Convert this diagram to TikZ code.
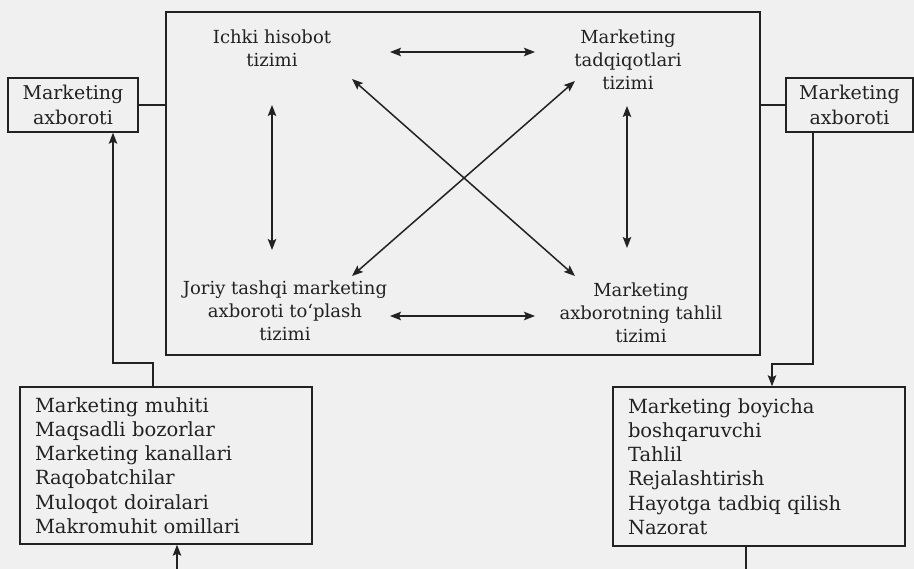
\documentclass[tikz,border=0pt]{standalone}
\usepackage{fontspec}
\setmainfont{DejaVu Serif}
\usetikzlibrary{arrows.meta}
\definecolor{ink}{HTML}{222222}
\definecolor{paper}{HTML}{F0F0F0}
\tikzset{
  box/.style={draw=ink, line width=1.5pt, inner sep=0pt, text=ink},
  lbl/.style={text=ink, align=center, inner sep=0pt, font=\fontsize{18}{23}\selectfont},
  sidelbl/.style={align=center, font=\fontsize{19}{25}\selectfont},
  listlbl/.style={align=left, text width=262pt, font=\fontsize{19.5}{24.2}\selectfont},
  con/.style={draw=ink, line width=1.5pt},
  tip/.tip={Stealth[length=11pt,width=8.5pt,inset=2pt]},
  arr/.style={con, -tip},
  dbl/.style={con, tip-tip}
}
\begin{document}
\begin{tikzpicture}[x=1pt,y=-1pt]
\fill[paper] (0,0) rectangle (914,569);
\useasboundingbox (0,0) rectangle (914,569);

% main frame
\node[box, minimum width=594pt, minimum height=343pt] (mainbox) at (463,183.5) {};

% inner labels
\node[lbl] (ichki) at (272,48) {Ichki hisobot\\tizimi};
\node[lbl] (tadqiq) at (628,60) {Marketing\\tadqiqotlari\\tizimi};
\node[lbl] (joriy) at (285,311) {Joriy tashqi marketing\\axboroti to‘plash\\tizimi};
\node[lbl] (tahlil) at (641,313) {Marketing\\axborotning tahlil\\tizimi};

% side boxes
\node[box, sidelbl, minimum width=130pt, minimum height=54pt] (lbox) at (73,105) {Marketing\\axboroti};
\node[box, sidelbl, minimum width=127pt, minimum height=54pt] (rbox) at (849.5,105) {Marketing\\axboroti};

% bottom boxes
\node[box, listlbl, minimum width=292pt, minimum height=157pt] (blbox) at (166,465.5)
  {Marketing muhiti\\Maqsadli bozorlar\\Marketing kanallari\\Raqobatchilar\\Muloqot doiralari\\Makromuhit omillari};
\node[box, listlbl, minimum width=292pt, minimum height=159pt] (brbox) at (759,466.5)
  {Marketing boyicha\\boshqaruvchi\\Tahlil\\Rejalashtirish\\Hayotga tadbiq qilish\\Nazorat};

% arrow end points inside the frame
\coordinate (t1) at (390,52);
\coordinate (t2) at (535,52);
\coordinate (b1) at (390,316);
\coordinate (b2) at (535,316);
\coordinate (v1) at (272,105);
\coordinate (v2) at (272,250);
\coordinate (w1) at (627,106);
\coordinate (w2) at (627,248);
\coordinate (d1) at (352,79);
\coordinate (d2) at (575,276);
\coordinate (d3) at (575,81);
\coordinate (d4) at (352,276);

\draw[dbl] (t1) -- (t2);
\draw[dbl] (b1) -- (b2);
\draw[dbl] (v1) -- (v2);
\draw[dbl] (w1) -- (w2);
\draw[dbl] (d1) -- (d2);
\draw[dbl] (d3) -- (d4);

% side links
\draw[con] (lbox.east) -- (mainbox.west |- lbox.east);
\draw[con] (mainbox.east |- rbox.west) -- (rbox.west);

% left feedback path
\coordinate (lb1) at (153,363);
\coordinate (lb2) at (113,363);
\draw[arr] (blbox.north -| lb1) -- (lb1) -- (lb2) -- (lbox.south -| lb2);

% right path
\coordinate (rb1) at (813,364);
\coordinate (rb2) at (772,364);
\draw[arr] (rbox.south -| rb1) -- (rb1) -- (rb2) -- (brbox.north -| rb2);

% bottom stubs
\coordinate (blin) at (177,569);
\draw[arr] (blin) -- (blbox.south -| blin);
\coordinate (brout) at (746,569);
\draw[con] (brbox.south -| brout) -- (brout);
\end{tikzpicture}
\end{document}
